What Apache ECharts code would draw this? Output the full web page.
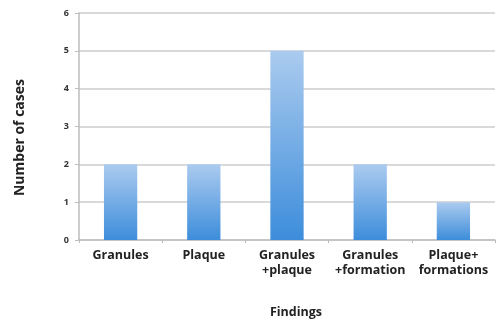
<!DOCTYPE html>
<html><head><meta charset="utf-8">
<script src="https://cdn.jsdelivr.net/npm/echarts@6/dist/echarts.min.js"></script>
<style>html,body{margin:0;padding:0;background:#fff}#c{width:497px;height:321px}</style>
</head><body><div id="c"></div>
<script>
const categories = ["Granules", "Plaque", "Granules\n+plaque", "Granules\n+formation", "Plaque+\nformations"];
const values = [2, 2, 5, 2, 1];
const yTicks = [0, 1, 2, 3, 4, 5, 6];

const chart = echarts.init(document.getElementById('c'));
chart.setOption({
  animation: false,
  grid: { left: 79, right: 2, top: 13, bottom: 81, containLabel: false, outerBoundsMode: 'none' },
  xAxis: {
    type: 'category',
    data: categories,
    name: 'Findings',
    nameLocation: 'middle',
    nameGap: 66,
    nameTextStyle: { fontFamily: 'Open Sans', fontWeight: 'bold', fontSize: 12.5, color: '#222', padding: [0, 0, 0, 18] },
    axisLine: { lineStyle: { color: '#bdbdbd', width: 1.5 } },
    axisTick: { show: true, length: 3, lineStyle: { color: '#bdbdbd' } },
    axisLabel: { fontFamily: 'Open Sans', fontWeight: 'bold', fontSize: 12.5, color: '#222', margin: 8, lineHeight: 15, interval: 0 }
  },
  yAxis: {
    type: 'value',
    min: 0, max: 6, interval: 1,
    name: 'Number of cases',
    nameLocation: 'middle',
    nameGap: 52,
    nameTextStyle: { fontFamily: 'Open Sans', fontWeight: 'bold', fontSize: 14, color: '#222', padding: [0, 22, 0, 0] },
    axisLine: { show: true, lineStyle: { color: '#bdbdbd', width: 1.5 } },
    axisTick: { show: true, length: 4, lineStyle: { color: '#bdbdbd' } },
    splitLine: { lineStyle: { color: '#cccccc', width: 1.5 } },
    axisLabel: { fontFamily: 'Open Sans', fontWeight: 'bold', fontSize: 9, color: '#333', margin: 10,
      formatter: v => yTicks.includes(v) ? String(v) : '' }
  },
  series: [{
    type: 'bar',
    data: values,
    barWidth: '40%',
    itemStyle: {
      color: new echarts.graphic.LinearGradient(0, 0, 0, 1, [
        { offset: 0, color: '#abcbef' },
        { offset: 1, color: '#3d8ddb' }
      ])
    }
  }]
});
</script></body></html>
